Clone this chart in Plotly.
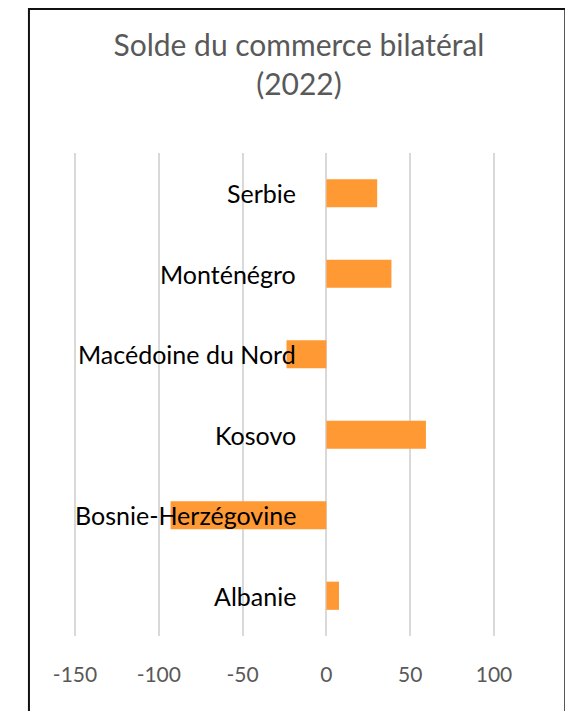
import plotly.graph_objects as go

pays = ["Albanie", "Bosnie-Herzégovine", "Kosovo", "Macédoine du Nord", "Monténégro", "Serbie"]
solde = [7.5, -93, 59.4, -23.8, 38.8, 30.3]
tick_vals = [-150, -100, -50, 0, 50, 100]
tick_text = ["-150", "-100", "-50", "0", "50", "100"]

FONT = "Lato"
ORANGE = "#FF9933"
GREY = "#595959"

# the page body adds an 8px margin, so the figure is 8px smaller each way
W, H = 565, 703

fig = go.Figure(
    go.Bar(
        x=solde,
        y=pays,
        orientation="h",
        marker=dict(color=ORANGE, line=dict(width=0)),
        width=0.35,
        hoverinfo="x+y",
    )
)

# category labels sit just left of the zero line, above the bars
for p in pays:
    fig.add_annotation(
        x=0, y=p, xref="x", yref="y",
        text=p, showarrow=False,
        xanchor="right", yanchor="middle", xshift=-28,
        font=dict(family=FONT, size=25, color="black"),
    )

# outer chart frame
fig.add_shape(
    type="rect", xref="paper", yref="paper",
    x0=-0.107, x1=1.167, y0=-0.2, y1=1.298,
    line=dict(color="#111111", width=2),
    layer="below",
)

fig.update_layout(
    width=W,
    height=H,
    margin=dict(l=66, r=78, t=145, b=75),
    paper_bgcolor="white",
    plot_bgcolor="white",
    showlegend=False,
    title=dict(
        text="Solde du commerce bilatéral<br>(2022)",
        x=0.515, xref="container", xanchor="center",
        y=1 - 48 / H, yref="container", yanchor="top",
        font=dict(family=FONT, size=30, color=GREY),
    ),
    font=dict(family=FONT),
)

fig.update_xaxes(
    range=[-150.6, 100.6],
    tickvals=tick_vals,
    ticktext=tick_text,
    showgrid=True,
    gridcolor="#D9D9D9",
    gridwidth=2,
    zeroline=True,
    zerolinecolor="#D9D9D9",
    zerolinewidth=2,
    showline=False,
    ticks="",
    ticklabelstandoff=24,
    tickfont=dict(family=FONT, size=21, color=GREY),
)
fig.update_yaxes(showticklabels=False, showgrid=False, zeroline=False, showline=False)

fig.write_html("out.html")
